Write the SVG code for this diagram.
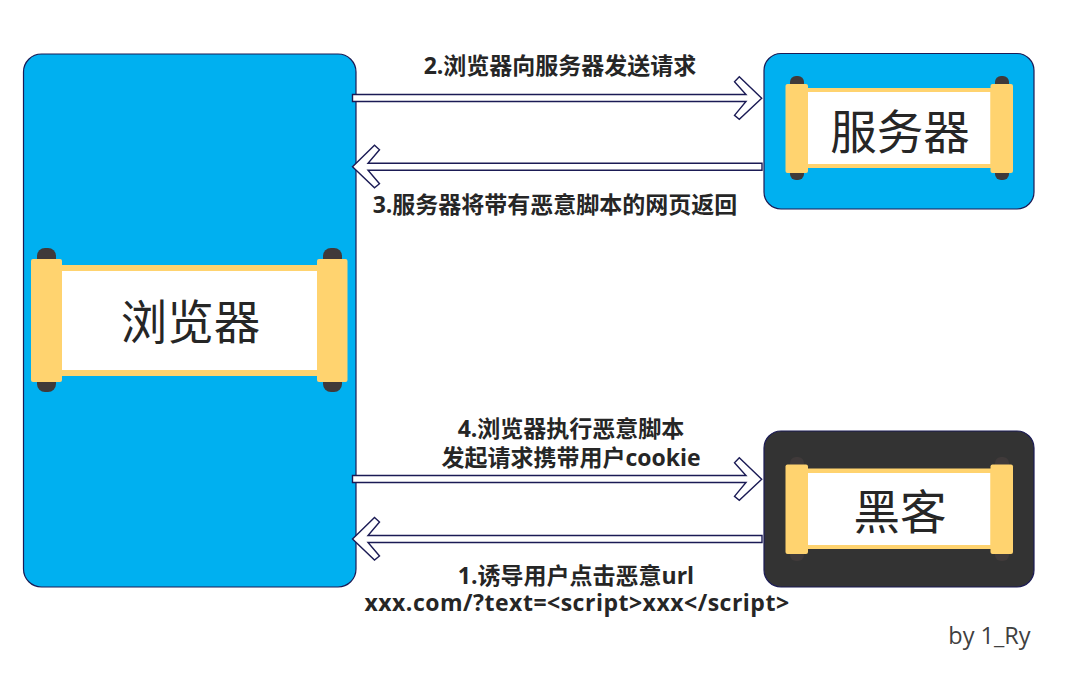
<svg xmlns="http://www.w3.org/2000/svg" width="1089" height="673" viewBox="0 0 1089 673">
<style>
.box{stroke:#1b1b55;stroke-width:1.2}
.blue{fill:#00b0f0}
.dark{fill:#333333}
.knob{fill:#403a3a}
.bar{fill:#ffd36f}
.paper{fill:#fff}
.arrow{fill:#fff;stroke:#1b1b55;stroke-width:1.4;stroke-linejoin:miter}
text{font-family:"Open Sans","Noto Sans CJK SC",sans-serif;fill:#262626;text-anchor:middle}
.title{font-size:46.500px;font-family:"Noto Sans CJK SC",sans-serif;font-weight:400}
.lab{font-size:23px;font-weight:700}
.by{font-size:23.500px;fill:#404040}
</style>
<rect width="1089" height="673" fill="#fff"/>
<g id="browser">
<rect class="box blue" x="23.500" y="54" width="332.500" height="533" rx="18"/>
<rect class="knob" x="37" y="248" width="19" height="144" rx="8"/>
<rect class="knob" x="323" y="248" width="19" height="144" rx="8"/>
<rect class="bar" x="55" y="265" width="270" height="111"/>
<rect class="paper" x="62" y="271" width="255" height="99"/>
<rect class="bar" x="31" y="259" width="31" height="123" rx="2"/>
<rect class="bar" x="317" y="259" width="30.500" height="123" rx="2"/>
<text class="title" x="190.500" y="339">浏览器</text>
</g>
<g id="server">
<rect class="box blue" x="764" y="53.500" width="270" height="155.500" rx="17"/>
<rect class="knob" x="790" y="76" width="14" height="104" rx="6"/>
<rect class="knob" x="995" y="76" width="14" height="104" rx="6"/>
<rect class="bar" x="800" y="88" width="200" height="80"/>
<rect class="paper" x="808" y="92" width="182.500" height="72"/>
<rect class="bar" x="785.500" y="84" width="22.500" height="89" rx="2"/>
<rect class="bar" x="990.500" y="84" width="22.500" height="89" rx="2"/>
<text class="title" x="900" y="149">服务器</text>
</g>
<g id="hacker">
<rect class="box dark" x="764" y="431" width="270" height="156" rx="17"/>
<rect class="knob" x="790" y="457" width="14" height="104" rx="6"/>
<rect class="knob" x="995" y="457" width="14" height="104" rx="6"/>
<rect class="bar" x="800" y="468.500" width="200" height="80.500"/>
<rect class="paper" x="808" y="473" width="182.500" height="72"/>
<rect class="bar" x="785.500" y="464.500" width="22.500" height="89.500" rx="2"/>
<rect class="bar" x="990.500" y="464.500" width="22.500" height="89.500" rx="2"/>
<text class="title" x="900" y="529">黑客</text>
</g>
<g id="connectors">
<polygon class="arrow" points="352.500,94.500 746,94.500 734.500,81.700 739.300,76.700 761.700,98.300 739.300,119.300 734.500,115.300 746,101.500 352.500,101.500"/>
<polygon class="arrow" points="762,163.200 368,163.200 379.500,149.700 374.500,145.200 352.500,166.700 374.500,187.700 379.500,183.700 368,170.200 762,170.200"/>
<polygon class="arrow" points="352.500,475.500 746,475.500 734.500,462.700 739.300,457.700 761.700,479.300 739.300,500.300 734.500,496.300 746,482.500 352.500,482.500"/>
<polygon class="arrow" points="762,535.500 368,535.500 379.500,522 374.500,517.500 352.500,539 374.500,560 379.500,556 368,542.500 762,542.500"/>
</g>
<g id="labels">
<text class="lab" x="560" y="74">2.浏览器向服务器发送请求</text>
<text class="lab" x="555" y="213">3.服务器将带有恶意脚本的网页返回</text>
<text class="lab" x="571" y="437">4.浏览器执行恶意脚本</text>
<text class="lab" x="571" y="466">发起请求携带用户cookie</text>
<text class="lab" x="576" y="584">1.诱导用户点击恶意url</text>
<text class="lab" x="577" y="611" letter-spacing="0.500">xxx.com/?text=&lt;script&gt;xxx&lt;/script&gt;</text>
<text class="by" x="989.500" y="644">by 1_Ry</text>
</g>
</svg>
